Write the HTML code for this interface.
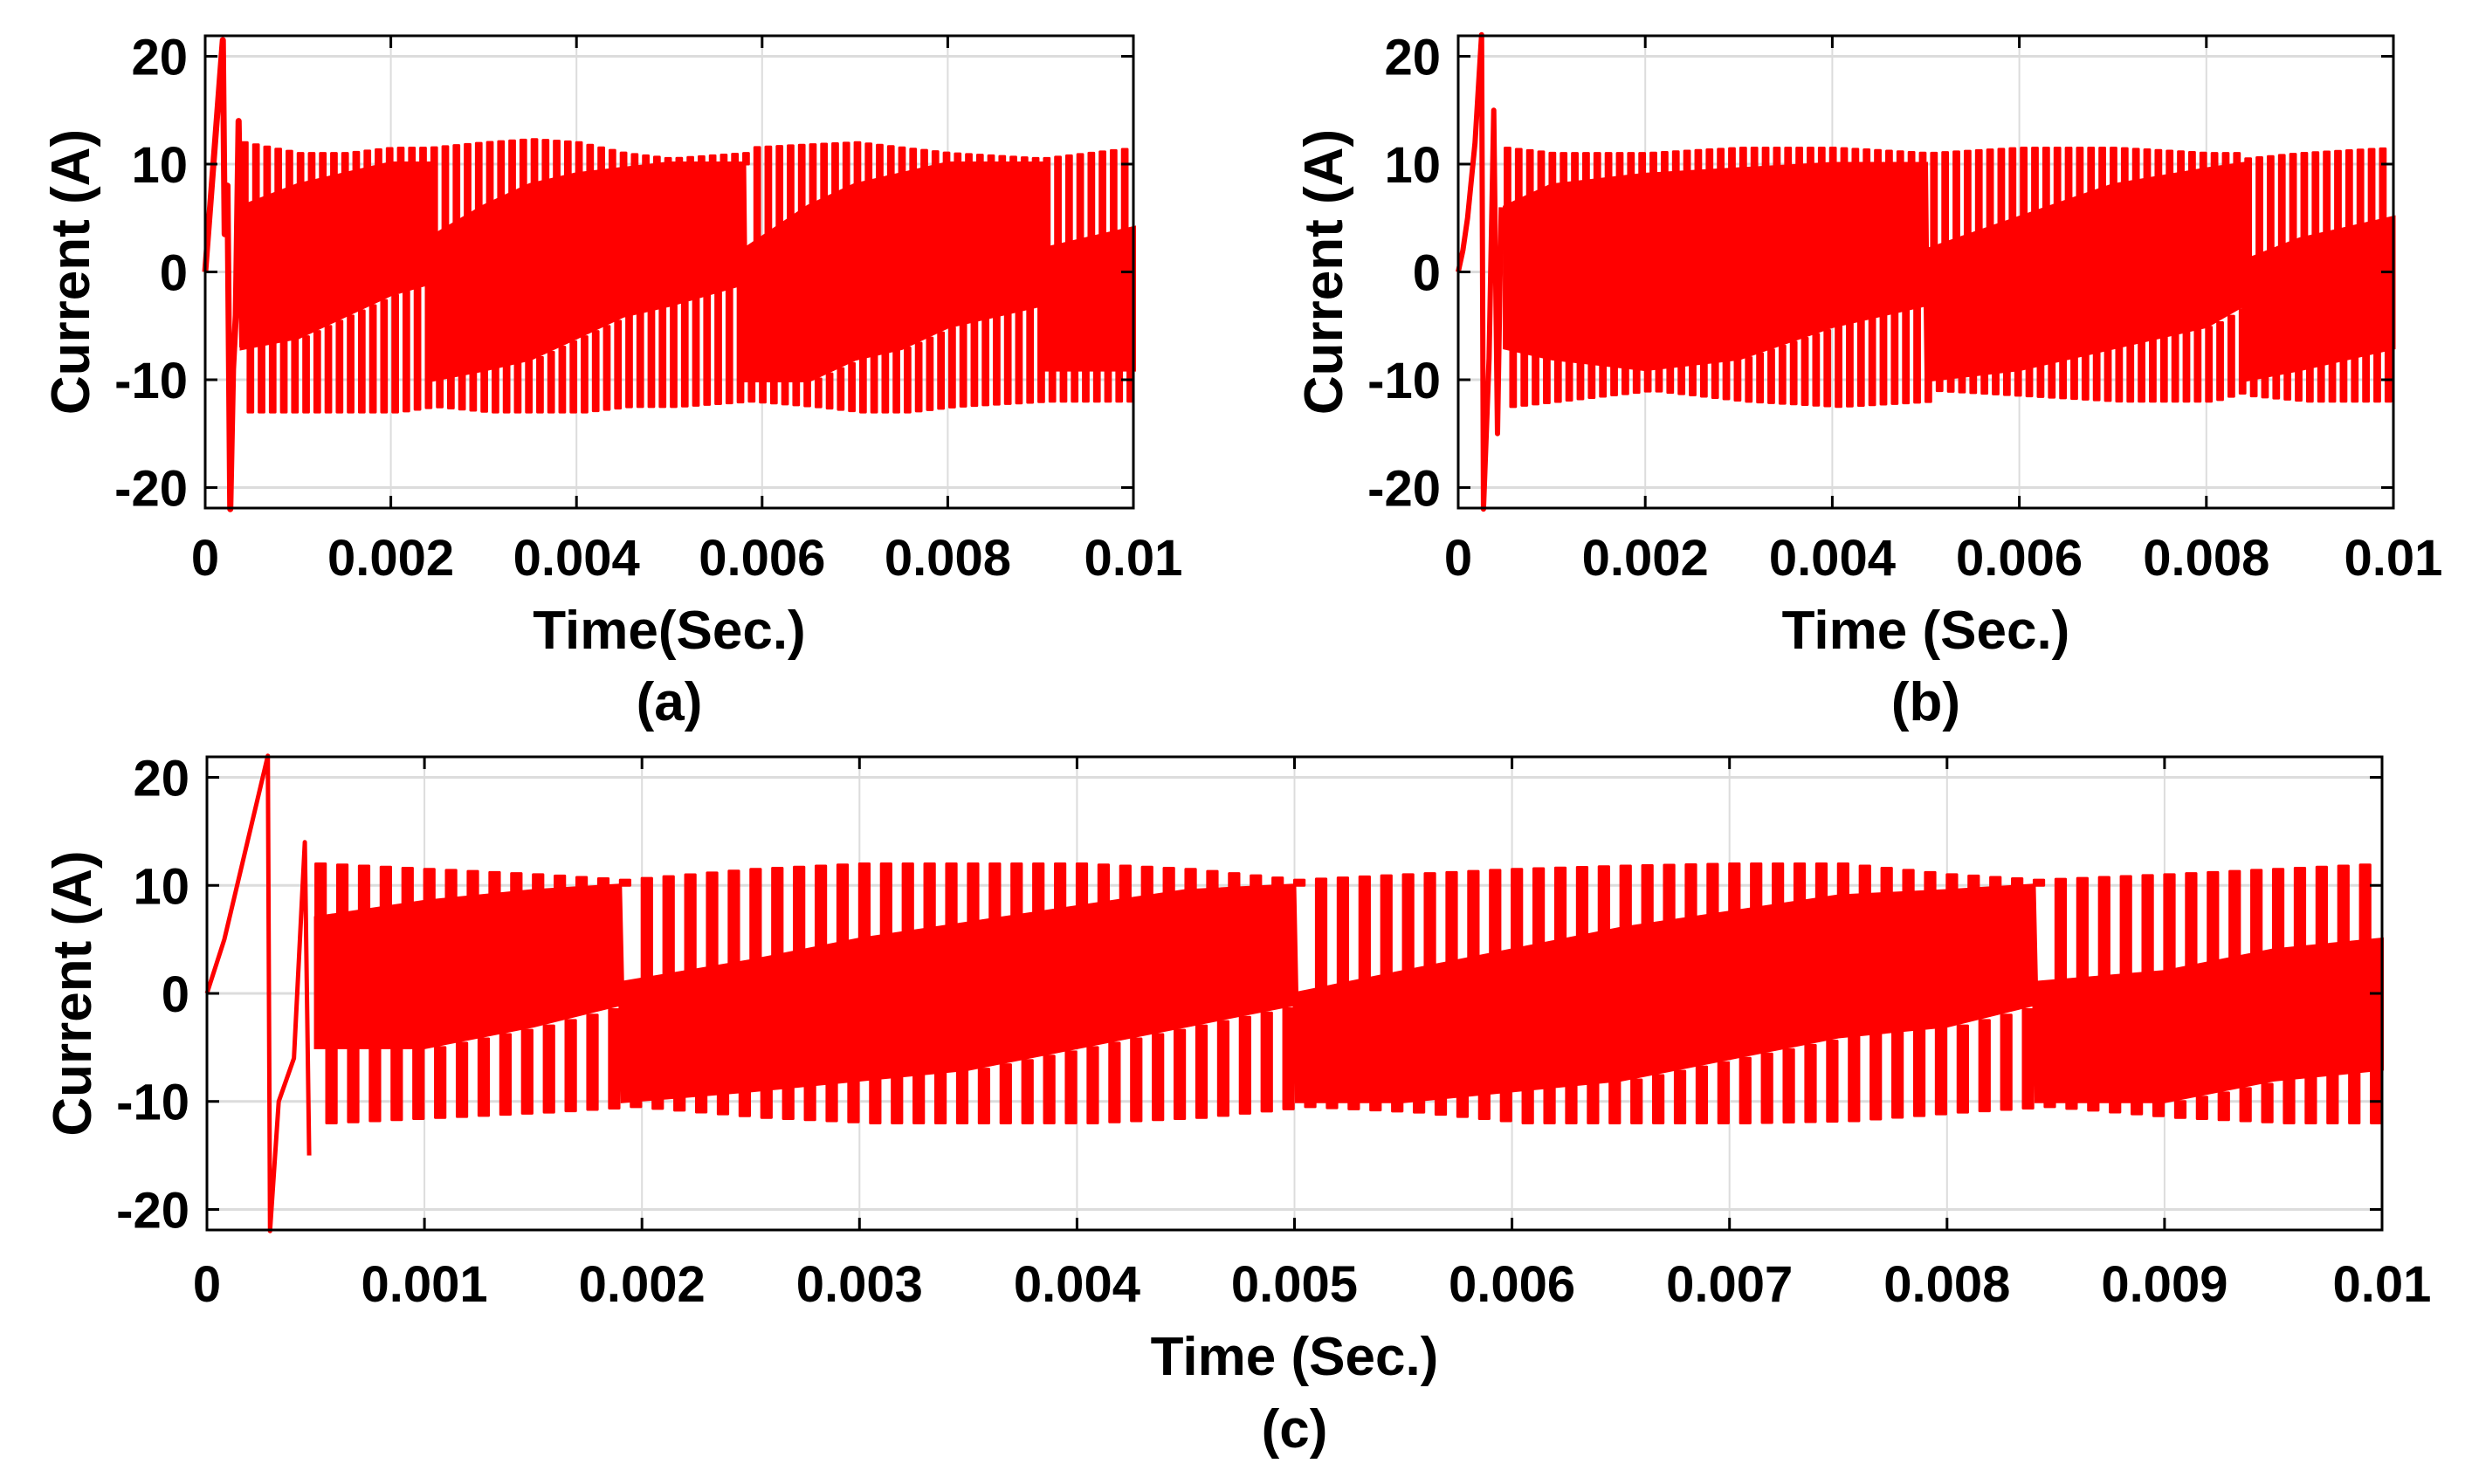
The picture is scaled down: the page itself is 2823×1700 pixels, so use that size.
<!DOCTYPE html>
<html><head><meta charset="utf-8">
<style>
html,body{margin:0;padding:0;background:#fff;}
svg{display:block;font-family:"Liberation Sans",Arial,sans-serif;font-weight:bold;}
</style></head>
<body>
<svg id="fig" width="2823" height="1700" viewBox="0 0 2823 1700" xmlns="http://www.w3.org/2000/svg"></svg>
<script>
// ---- data (time in ms, current in A) ----
const yTicks = [20, 10, 0, -10, -20];
const yTickLabels = ["20", "10", "0", "-10", "-20"];
const xTicksAB = [0, 2, 4, 6, 8, 10];
const xTickLabelsAB = ["0", "0.002", "0.004", "0.006", "0.008", "0.01"];
const xTicksC = [0,1,2,3,4,5,6,7,8,9,10];
const xTickLabelsC = ["0","0.001","0.002","0.003","0.004","0.005","0.006","0.007","0.008","0.009","0.01"];

// panel a
const aStartT = [0, 0.19, 0.21, 0.24, 0.27, 0.30, 0.33, 0.36, 0.40];
const aStartI = [0, 21.5, 3.5, 8, -22, -9, -4, 14, -7];
const aEnvT   = [0.4, 1, 1.5, 2, 2.4, 2.41, 3, 3.5, 4, 4.5, 5, 5.8, 5.81, 6.5, 7, 7.5, 8, 9, 9.01, 9.5, 10];
const aBandTop= [6, 8, 9, 10, 10, 3, 6, 8, 9, 9.5, 10, 10, 2, 6, 8, 9, 10, 10, 2, 3, 4];
const aBandBot= [-7, -6, -4, -2, -1, -10, -9, -8, -6, -4, -3, -1, -10, -10, -8, -7, -5, -3, -9, -9, -9];
const aSpkTop = [12, 11, 11, 11.5, 11.5, 11.5, 12, 12.3, 12, 11, 10.5, 11, 11.5, 11.8, 12, 11.5, 11, 10.5, 10.5, 11, 11.5];
const aSpkBot = [-13, -13, -13, -13, -12.5, -12.5, -13, -13, -13, -12.5, -12.5, -12, -12, -12.5, -13, -13, -12.5, -12, -12, -12, -12];

// panel b
const bStartT = [0, 0.05, 0.1, 0.18, 0.25, 0.27, 0.33, 0.38, 0.42, 0.46];
const bStartI = [0, 2, 5, 12, 22, -22, -8, 15, -15, 6];
const bEnvT   = [0.5, 1, 2, 3, 4, 5, 5.01, 6, 7, 8, 8.4, 8.41, 9, 10];
const bBandTop= [6, 8, 9, 9.5, 10, 10, 2, 5, 8, 9.5, 10, 1, 3, 5];
const bBandBot= [-7, -8, -9, -8, -5, -3, -10, -9, -7, -5, -3, -10, -9, -7];
const bSpkTop = [11.5, 11, 11, 11.5, 11.5, 11, 11, 11.5, 11.5, 11, 11, 10.5, 11, 11.5];
const bSpkBot = [-12.5, -12, -11, -12, -12.5, -12, -11, -11.5, -12, -12, -11, -11.5, -12, -12];

// panel c
const cStartT = [0, 0.08, 0.28, 0.29, 0.33, 0.40, 0.45, 0.47];
const cStartI = [0, 5, 22, -22, -10, -6, 14, -15];
const cEnvT   = [0.5, 1, 1.5, 1.9, 1.91, 2.5, 3, 3.5, 4, 4.5, 5, 5.01, 5.5, 6, 6.5, 7, 7.5, 8, 8.4, 8.41, 9, 9.5, 10];
const cBandTop= [7, 8.5, 9.5, 10, 1, 3, 5, 6.5, 8, 9.5, 10, 0, 2, 4, 6, 7.5, 9, 9.5, 10, 1, 2, 4, 5];
const cBandBot= [-5, -5, -3, -1, -10, -9, -8, -7, -5, -3, -1, -10, -10, -9, -8, -6, -4, -3, -1, -10, -10, -8, -7];
const cSpkTop = [12, 11.5, 11, 10.5, 10.5, 11.5, 12, 12, 12, 11.5, 10.5, 10.5, 11, 11.5, 11.8, 12, 12, 11, 10.5, 10.5, 11, 11.5, 12];
const cSpkBot = [-12, -11.5, -11, -10.5, -10.5, -11.5, -12, -12, -12, -11.5, -10.5, -10.5, -11, -12, -12, -12, -11.8, -11, -10.5, -10.5, -11.5, -12, -12];

const NS = "http://www.w3.org/2000/svg";
const svg = document.getElementById("fig");
function mk(tag, attrs, parent){ const e=document.createElementNS(NS,tag); for(const k in attrs) e.setAttribute(k,attrs[k]); (parent||svg).appendChild(e); return e; }
function interp(ts, vs, t){
  if(t<=ts[0]) return vs[0];
  for(let i=1;i<ts.length;i++){ if(t<=ts[i]){ const f=(t-ts[i-1])/(ts[i]-ts[i-1]); return vs[i-1]+f*(vs[i]-vs[i-1]); } }
  return vs[vs.length-1];
}

function panel(p){
  const g = mk("g",{});
  
  
  const X = t => p.x0 + (t - 0)/(10 - 0)*(p.x1 - p.x0);
  const Y = v => p.y0 + (p.ymax - v)/(p.ymax - p.ymin)*(p.y1 - p.y0);
  p.xt.forEach(t=>{ const l=mk("line",{x1:X(t),x2:X(t),y1:p.y0,y2:p.y1,stroke:"#dcdcdc","stroke-width":2},g);
      });
  yTicks.forEach(v=>{ const l=mk("line",{x1:p.x0,x2:p.x1,y1:Y(v),y2:Y(v),stroke:"#dcdcdc","stroke-width":3},g);
      });
  let d="";
  p.envT.forEach((t,i)=>{ d+=(i?"L":"M")+X(t)+","+Y(p.bandTop[i]); });
  for(let i=p.envT.length-1;i>=0;i--) d+="L"+X(p.envT[i])+","+Y(p.bandBot[i]);
  const band=mk("path",{d:d+"Z",fill:"#ff0000",stroke:"#ff0000","stroke-width":p.sw},g);
   
  const t0=p.envT[0], t1=p.envT[p.envT.length-1];
  const w = p.period*0.45;
  let sd="";
  for(let t=t0;t<=t1-w+1e-9;t+=p.period){
    const bt=interp(p.envT,p.bandTop,t), bb=interp(p.envT,p.bandBot,t);
    const st=interp(p.envT,p.spkTop,t), sb=interp(p.envT,p.spkBot,t);
    const xa=X(t), xb=X(t+w);
    sd+="M"+xa+","+Y(bt)+"L"+xa+","+Y(st)+"L"+xb+","+Y(st)+"L"+xb+","+Y(bt)+"Z";
    const ta=t+p.period*0.5, xc=X(ta), xd=X(Math.min(ta+w,t1));
    sd+="M"+xc+","+Y(bb)+"L"+xc+","+Y(sb)+"L"+xd+","+Y(sb)+"L"+xd+","+Y(bb)+"Z";
  }
  const sp=mk("path",{d:sd,fill:"#ff0000",stroke:"#ff0000","stroke-width":3,"stroke-linejoin":"round"},g);
   
  const sdp=p.st.map((t,i)=>X(t)+","+Y(p.si[i])).join(" ");
  const su=mk("polyline",{points:sdp,fill:"none",stroke:"#ff0000","stroke-width":p.sw+1,"stroke-linejoin":"round"},g);
   
  const bx=mk("rect",{x:p.x0,y:p.y0,width:p.x1-p.x0,height:p.y1-p.y0,fill:"none",stroke:"#000","stroke-width":3},g);
   
  p.xt.forEach((t,i)=>{
    mk("line",{x1:X(t),x2:X(t),y1:p.y1,y2:p.y1-14,stroke:"#000","stroke-width":3},g);
    mk("line",{x1:X(t),x2:X(t),y1:p.y0,y2:p.y0+14,stroke:"#000","stroke-width":3},g);
    const tx=mk("text",{x:X(t),y:p.tickY,"text-anchor":"middle","font-size":58},g);
    tx.textContent=p.xl[i];
     
  });
  yTicks.forEach((v,i)=>{
    mk("line",{x1:p.x0,x2:p.x0+14,y1:Y(v),y2:Y(v),stroke:"#000","stroke-width":3},g);
    mk("line",{x1:p.x1,x2:p.x1-14,y1:Y(v),y2:Y(v),stroke:"#000","stroke-width":3},g);
    const tx=mk("text",{x:p.x0-20,y:Y(v)+21,"text-anchor":"end","font-size":58},g);
    tx.textContent=yTickLabels[i];
     
  });
  const yl=mk("text",{x:0,y:0,"text-anchor":"middle","font-size":62,transform:"translate("+(p.x0-133)+","+((p.y0+p.y1)/2)+") rotate(-90)"},g);
  yl.textContent="Current (A)";
   
  const xl=mk("text",{x:(p.x0+p.x1)/2,y:p.titleY,"text-anchor":"middle","font-size":62},g);
  xl.textContent=p.xtitle;
   
  const cap=mk("text",{x:(p.x0+p.x1)/2,y:p.capY,"text-anchor":"middle","font-size":62},g);
  cap.textContent=p.cap;
   
}

panel({name:"panel-a",x0:235,x1:1298,y0:41,y1:582,ymin:-21.9,ymax:21.9,xt:xTicksAB,xl:xTickLabelsAB,
  envT:aEnvT,bandTop:aBandTop,bandBot:aBandBot,spkTop:aSpkTop,spkBot:aSpkBot,st:aStartT,si:aStartI,
  period:0.12,sw:6,tickY:659,titleY:743,capY:825,xtitle:"Time(Sec.)",cap:"(a)"});
panel({name:"panel-b",x0:1670,x1:2741,y0:41,y1:582,ymin:-21.9,ymax:21.9,xt:xTicksAB,xl:xTickLabelsAB,
  envT:bEnvT,bandTop:bBandTop,bandBot:bBandBot,spkTop:bSpkTop,spkBot:bSpkBot,st:bStartT,si:bStartI,
  period:0.12,sw:5,tickY:659,titleY:743,capY:825,xtitle:"Time (Sec.)",cap:"(b)"});
panel({name:"panel-c",x0:237,x1:2728,y0:867,y1:1409,ymin:-21.9,ymax:21.9,xt:xTicksC,xl:xTickLabelsC,
  envT:cEnvT,bandTop:cBandTop,bandBot:cBandBot,spkTop:cSpkTop,spkBot:cSpkBot,st:cStartT,si:cStartI,
  period:0.1,sw:4,tickY:1491,titleY:1575,capY:1658,xtitle:"Time (Sec.)",cap:"(c)"});
</script>
</body></html>
